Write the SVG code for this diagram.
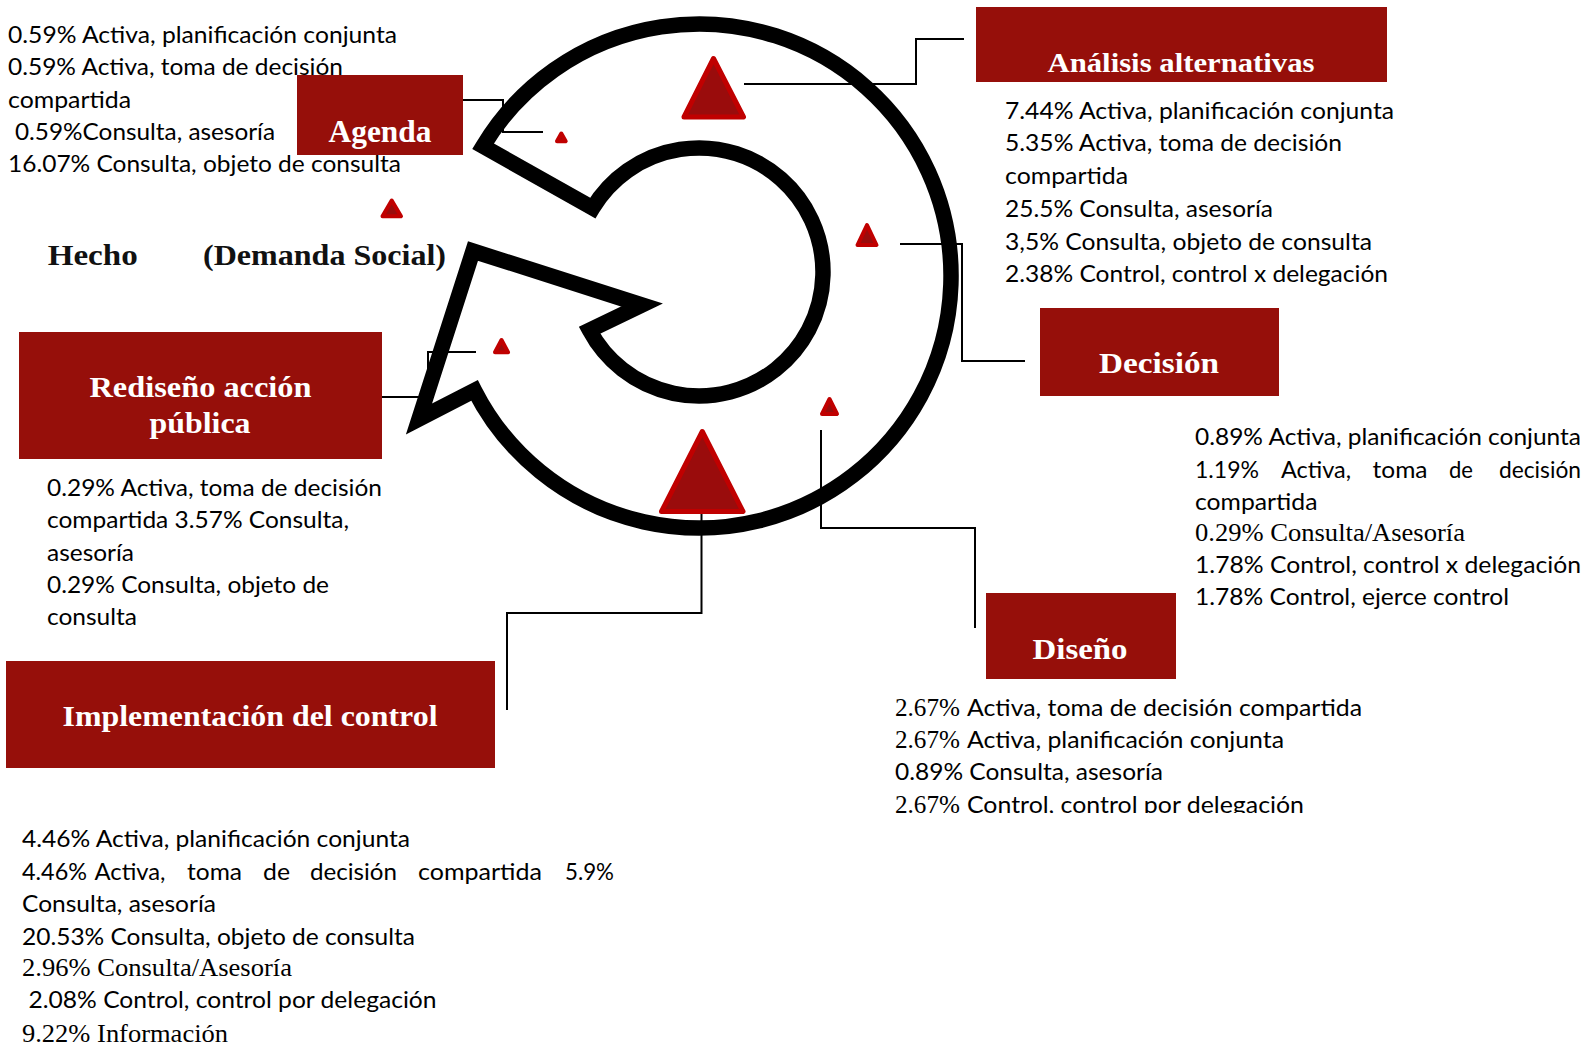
<svg xmlns="http://www.w3.org/2000/svg" width="1584" height="1044" viewBox="0 0 1584 1044">
<defs>
<style>
.b{font-family:Lato,"Open Sans","DejaVu Sans",sans-serif;font-size:24px;fill:#000}
.s{font-family:"Liberation Serif","Times New Roman",serif;font-size:26px;fill:#000}
.t{font-family:"Liberation Serif","Times New Roman",serif;font-weight:bold;fill:#fff;text-anchor:middle}
.h{font-family:"Liberation Serif","Times New Roman",serif;font-weight:bold;font-size:30px;fill:#111}
.box{fill:#960F0A}
.ln{fill:none;stroke:#000;stroke-width:2}
.tri{fill:#9A0C0C;stroke:#C00000;stroke-width:4;stroke-linejoin:round}
.big{stroke-width:5}
</style>
<clipPath id="clipD"><rect x="880" y="680" width="600" height="133"/></clipPath>
</defs>
<rect width="1584" height="1044" fill="#fff"/>

<g id="cycle">
<path d="M592.7 208.1 L483 146.2 A252 252 0 1 1 474.5 390.4 L419 419 L473 251 L642 305 L589.5 330.2 A124 124 0 1 0 592.7 208.1 Z" fill="#fff" stroke="#000" stroke-width="15.5" stroke-linejoin="miter" stroke-miterlimit="10"/>
</g>

<g id="hecho">
<text class="h" x="47.7" y="265" textLength="90" lengthAdjust="spacingAndGlyphs">Hecho</text>
<text class="h" x="203" y="265" textLength="243" lengthAdjust="spacingAndGlyphs">(Demanda Social)</text>
</g>

<g id="agenda">
<text class="b" x="8" y="43" textLength="389" lengthAdjust="spacingAndGlyphs">0.59% Activa, planificación conjunta</text>
<text class="b" x="8" y="75" textLength="335" lengthAdjust="spacingAndGlyphs">0.59% Activa, toma de decisión</text>
<text class="b" x="8" y="107.5" textLength="123" lengthAdjust="spacingAndGlyphs">compartida</text>
<text class="b" x="15" y="139.5" textLength="260" lengthAdjust="spacingAndGlyphs">0.59%Consulta, asesoría</text>
<text class="b" x="8" y="172" textLength="393" lengthAdjust="spacingAndGlyphs">16.07% Consulta, objeto de consulta</text>
<rect class="box" x="297" y="75" width="166" height="80"/>
<text class="t" x="380" y="142" font-size="31" textLength="103" lengthAdjust="spacingAndGlyphs">Agenda</text>
</g>

<g id="analisis">
<rect class="box" x="976" y="7" width="411" height="75"/>
<text class="t" x="1181" y="72" font-size="28" textLength="267" lengthAdjust="spacingAndGlyphs">Análisis alternativas</text>
<text class="b" x="1005" y="118.5" textLength="389" lengthAdjust="spacingAndGlyphs">7.44% Activa, planificación conjunta</text>
<text class="b" x="1005" y="151" textLength="337" lengthAdjust="spacingAndGlyphs">5.35% Activa, toma de decisión</text>
<text class="b" x="1005" y="184" textLength="123" lengthAdjust="spacingAndGlyphs">compartida</text>
<text class="b" x="1005" y="217" textLength="268" lengthAdjust="spacingAndGlyphs">25.5% Consulta, asesoría</text>
<text class="b" x="1005" y="249.5" textLength="367" lengthAdjust="spacingAndGlyphs">3,5% Consulta, objeto de consulta</text>
<text class="b" x="1005" y="282" textLength="383" lengthAdjust="spacingAndGlyphs">2.38% Control, control x delegación</text>
</g>

<g id="decision">
<rect class="box" x="1040" y="308" width="239" height="88"/>
<text class="t" x="1159" y="373" font-size="30" textLength="120" lengthAdjust="spacingAndGlyphs">Decisión</text>
<text class="b" x="1195" y="445" textLength="386" lengthAdjust="spacingAndGlyphs">0.89% Activa, planificación conjunta</text>
<text class="b" x="1195" y="477.5" textLength="64" lengthAdjust="spacingAndGlyphs">1.19%</text>
<text class="b" x="1281" y="477.5" textLength="70" lengthAdjust="spacingAndGlyphs">Activa,</text>
<text class="b" x="1372.5" y="477.5" textLength="55" lengthAdjust="spacingAndGlyphs">toma</text>
<text class="b" x="1449" y="477.5" textLength="24" lengthAdjust="spacingAndGlyphs">de</text>
<text class="b" x="1499" y="477.5" textLength="82" lengthAdjust="spacingAndGlyphs">decisión</text>
<text class="b" x="1195" y="510" textLength="122.5" lengthAdjust="spacingAndGlyphs">compartida</text>
<text class="s" x="1195" y="541" textLength="270" lengthAdjust="spacingAndGlyphs">0.29% Consulta/Asesoría</text>
<text class="b" x="1195" y="573" textLength="386" lengthAdjust="spacingAndGlyphs">1.78% Control, control x delegación</text>
<text class="b" x="1195" y="605" textLength="314" lengthAdjust="spacingAndGlyphs">1.78% Control, ejerce control</text>
</g>

<g id="diseno">
<rect class="box" x="986" y="593" width="190" height="86"/>
<text class="t" x="1080" y="659" font-size="30" textLength="95" lengthAdjust="spacingAndGlyphs">Diseño</text>
<g clip-path="url(#clipD)">
<text class="s" x="895" y="716" textLength="65" lengthAdjust="spacingAndGlyphs">2.67%</text>
<text class="b" x="967" y="716" textLength="395" lengthAdjust="spacingAndGlyphs">Activa, toma de decisión compartida</text>
<text class="s" x="895" y="748" textLength="65" lengthAdjust="spacingAndGlyphs">2.67%</text>
<text class="b" x="967" y="748" textLength="317" lengthAdjust="spacingAndGlyphs">Activa, planificación conjunta</text>
<text class="b" x="895" y="780" textLength="268" lengthAdjust="spacingAndGlyphs">0.89% Consulta, asesoría</text>
<text class="s" x="895" y="813" textLength="65" lengthAdjust="spacingAndGlyphs">2.67%</text>
<text class="b" x="967" y="813" textLength="337" lengthAdjust="spacingAndGlyphs">Control, control por delegación</text>
</g>
</g>

<g id="rediseno">
<rect class="box" x="19" y="332" width="363" height="127"/>
<text class="t" x="200.5" y="397" font-size="29" textLength="222" lengthAdjust="spacingAndGlyphs">Rediseño acción</text>
<text class="t" x="200" y="433" font-size="29" textLength="101" lengthAdjust="spacingAndGlyphs">pública</text>
<text class="b" x="47" y="496" textLength="335" lengthAdjust="spacingAndGlyphs">0.29% Activa, toma de decisión</text>
<text class="b" x="47" y="528" textLength="302" lengthAdjust="spacingAndGlyphs">compartida 3.57% Consulta,</text>
<text class="b" x="47" y="561" textLength="87" lengthAdjust="spacingAndGlyphs">asesoría</text>
<text class="b" x="47" y="593" textLength="282" lengthAdjust="spacingAndGlyphs">0.29% Consulta, objeto de</text>
<text class="b" x="47" y="625" textLength="90" lengthAdjust="spacingAndGlyphs">consulta</text>
</g>

<g id="implementacion">
<rect class="box" x="6" y="661" width="489" height="107"/>
<text class="t" x="250" y="726" font-size="29" textLength="375" lengthAdjust="spacingAndGlyphs">Implementación del control</text>
<text class="b" x="22" y="847" textLength="388" lengthAdjust="spacingAndGlyphs">4.46% Activa, planificación conjunta</text>
<text class="b" x="22" y="880" textLength="65" lengthAdjust="spacingAndGlyphs">4.46%</text>
<text class="b" x="94.5" y="880" textLength="71" lengthAdjust="spacingAndGlyphs">Activa,</text>
<text class="b" x="187" y="880" textLength="55" lengthAdjust="spacingAndGlyphs">toma</text>
<text class="b" x="263" y="880" textLength="27" lengthAdjust="spacingAndGlyphs">de</text>
<text class="b" x="310" y="880" textLength="87" lengthAdjust="spacingAndGlyphs">decisión</text>
<text class="b" x="418" y="880" textLength="124" lengthAdjust="spacingAndGlyphs">compartida</text>
<text class="b" x="565" y="880" textLength="49" lengthAdjust="spacingAndGlyphs">5.9%</text>
<text class="b" x="22" y="912" textLength="194" lengthAdjust="spacingAndGlyphs">Consulta, asesoría</text>
<text class="b" x="22" y="945" textLength="393" lengthAdjust="spacingAndGlyphs">20.53% Consulta, objeto de consulta</text>
<text class="s" x="22" y="976" textLength="270" lengthAdjust="spacingAndGlyphs">2.96% Consulta/Asesoría</text>
<text class="b" x="28.5" y="1008" textLength="408" lengthAdjust="spacingAndGlyphs">2.08% Control, control por delegación</text>
<text class="s" x="22" y="1042" textLength="206" lengthAdjust="spacingAndGlyphs">9.22% Información</text>
</g>

<g id="connectors">
<path class="ln" d="M463 100 H503 V132 H543"/>
<path class="ln" d="M744 84 H916 V39 H964"/>
<path class="ln" d="M900 244 H962 V361 H1025"/>
<path class="ln" d="M821 430 V528 H975 V628"/>
<path class="ln" d="M701.5 514 V613 H507 V710"/>
<path class="ln" d="M476 352 H428 V397 H382"/>
</g>

<g id="markers">
<path class="tri big" d="M713.5 58.5 L743.5 117 L684 117 Z"/>
<path class="tri big" d="M702.3 431.5 L743 511.5 L661.5 511.5 Z"/>
<path class="tri" d="M561.3 133.5 L565.7 141.3 L557 141.3 Z"/>
<path class="tri" d="M391.7 200.5 L401 216.3 L382.5 216.3 Z"/>
<path class="tri" d="M867 225 L876.5 245 L857.5 245 Z"/>
<path class="tri" d="M829.5 399 L837 414 L822 414 Z"/>
<path class="tri" d="M501.5 340 L508 352.3 L495 352.3 Z"/>
</g>
</svg>
